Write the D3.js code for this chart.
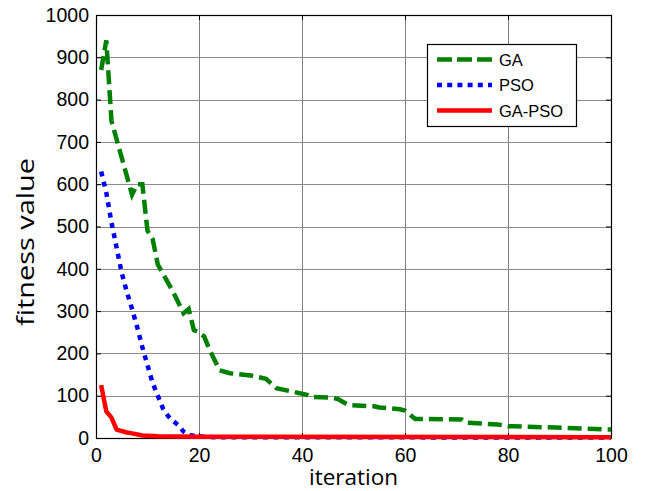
<!DOCTYPE html>
<html>
<head>
<meta charset="utf-8">
<script src="https://cdn.jsdelivr.net/npm/d3@7"></script>
<style>
  body { margin: 0; background: #fff; }
  svg { display: block; }
</style>
</head>
<body>
<div id="chart"></div>
<script>
// values (iteration, fitness)
const gaIter = [1, 2, 3, 7, 8, 9, 10, 11, 12, 15, 17, 18, 19, 20, 21, 22, 24, 26, 30, 33, 35, 38, 41, 42, 46, 47, 49, 54, 55, 59, 60, 62, 71, 72, 78, 80, 81, 100];
const gaVal  = [870, 940, 750, 575, 600, 600, 490, 470, 410, 345, 295, 305, 255, 250, 240, 210, 160, 153, 148, 140, 118, 110, 102, 97, 95, 92, 78, 75, 72, 68, 65, 45, 44, 36, 32, 28, 28, 20];

const psoIter = [1, 2, 3, 4, 5, 6, 7, 8, 9, 10, 11, 12, 13, 14, 15, 16, 17, 18, 20, 23, 100];
const psoVal  = [630, 580, 510, 450, 390, 345, 305, 262, 215, 172, 130, 100, 70, 52, 40, 30, 15, 7, 4, 2, 1];

const hybIter = [1, 2, 3, 4, 6, 7, 9, 12, 20, 100];
const hybVal  = [125, 63, 48, 20, 13, 11, 6, 4, 3, 2];

const xTicks = [0, 20, 40, 60, 80, 100];
const yTicks = [0, 100, 200, 300, 400, 500, 600, 700, 800, 900, 1000];

const seriesNames = ["GA", "PSO", "GA-PSO"];

const W = 648, H = 491;
const margin = { top: 15, right: 37, bottom: 53, left: 96 };
const width = W - margin.left - margin.right;
const height = H - margin.top - margin.bottom;

const svg = d3.select("#chart").append("svg")
    .attr("width", W)
    .attr("height", H);

const g = svg.append("g")
    .attr("transform", `translate(${margin.left},${margin.top})`);

const x = d3.scaleLinear().domain([0, 100]).range([0, width]);
const y = d3.scaleLinear().domain([0, 1000]).range([height, 0]);

// grid
g.append("g").selectAll("line.gx")
    .data(xTicks.slice(1, -1))
    .enter().append("line")
    .attr("x1", d => Math.round(x(d)) + 0.5).attr("x2", d => Math.round(x(d)) + 0.5)
    .attr("y1", 0).attr("y2", height)
    .attr("stroke", "#808080").attr("stroke-width", 1);

g.append("g").selectAll("line.gy")
    .data(yTicks.slice(1, -1))
    .enter().append("line")
    .attr("y1", d => Math.round(y(d)) + 0.5).attr("y2", d => Math.round(y(d)) + 0.5)
    .attr("x1", 0).attr("x2", width)
    .attr("stroke", "#8c8c8c").attr("stroke-width", 1);

// axes, ticks pointing inward like matlab
const tickFont = "'Liberation Sans', Arial, sans-serif";
const fmt = d3.format("d");

const xAxis = g.append("g")
    .attr("transform", `translate(0,${height})`)
    .call(d3.axisBottom(x).tickValues(xTicks).tickFormat(fmt).tickSize(-5).tickPadding(10));
const yAxis = g.append("g")
    .call(d3.axisLeft(y).tickValues(yTicks).tickFormat(fmt).tickSize(-5).tickPadding(7));
g.append("g")
    .call(d3.axisTop(x).tickValues(xTicks).tickSize(-5).tickFormat(""));
g.append("g")
    .attr("transform", `translate(${width},0)`)
    .call(d3.axisRight(y).tickValues(yTicks).tickSize(-5).tickFormat(""));

g.selectAll(".domain").remove();
g.selectAll(".tick line").attr("stroke", "#000");
[xAxis, yAxis].forEach(a => a.selectAll("text")
    .style("font-family", tickFont)
    .style("font-size", "19.5px")
    .attr("fill", "#000"));

// box
g.append("rect")
    .attr("x", 0.5).attr("y", 0.5)
    .attr("width", width).attr("height", height)
    .attr("fill", "none").attr("stroke", "#000").attr("stroke-width", 1.2);

const line = d3.line().x(d => x(d[0])).y(d => y(d[1]));

const hybData = d3.zip(hybIter, hybVal);
const psoData = d3.zip(psoIter, psoVal);
const gaData = d3.zip(gaIter, gaVal);

g.append("path").datum(gaData)
    .attr("d", line)
    .attr("fill", "none").attr("stroke", "#008000")
    .attr("stroke-width", 4.5).attr("stroke-dasharray", "14,6");

g.append("path").datum(psoData)
    .attr("d", line)
    .attr("fill", "none").attr("stroke", "#0000ff")
    .attr("stroke-width", 4.5).attr("stroke-dasharray", "5,5.5");

g.append("path").datum(hybData)
    .attr("d", line)
    .attr("fill", "none").attr("stroke", "#ff0000")
    .attr("stroke-width", 4.5).attr("stroke-linejoin", "round");

// legend
const legend = svg.append("g").attr("transform", "translate(427,44)");
legend.append("rect")
    .attr("x", 0.5).attr("y", 0.5).attr("width", 149).attr("height", 82)
    .attr("fill", "#fff").attr("stroke", "#000").attr("stroke-width", 1.2);

const legStyles = [
    { color: "#008000", dash: "15,5" },
    { color: "#0000ff", dash: "5,5.2" },
    { color: "#ff0000", dash: null }
];

seriesNames.forEach((name, i) => {
    const ly = 15.5 + i * 25.5;
    legend.append("line")
        .attr("x1", 10).attr("x2", 65)
        .attr("y1", ly).attr("y2", ly)
        .attr("stroke", legStyles[i].color)
        .attr("stroke-width", 4.5)
        .attr("stroke-dasharray", legStyles[i].dash);
    legend.append("text")
        .attr("x", 72).attr("y", ly + 6)
        .style("font-family", tickFont)
        .style("font-size", "16.5px")
        .text(name);
});

// axis labels
const labelFont = "'Open Sans', 'Noto Sans', sans-serif";
svg.append("text")
    .attr("x", margin.left + width / 2)
    .attr("y", 485)
    .attr("text-anchor", "middle")
    .style("font-family", labelFont)
    .style("font-size", "22.5px")
    .text("iteration");

svg.append("text")
    .attr("transform", "translate(34,242) rotate(-90)")
    .attr("text-anchor", "middle")
    .attr("textLength", 168)
    .attr("lengthAdjust", "spacingAndGlyphs")
    .style("font-family", labelFont)
    .style("font-size", "24px")
    .text("fitness value");
</script>
</body>
</html>
